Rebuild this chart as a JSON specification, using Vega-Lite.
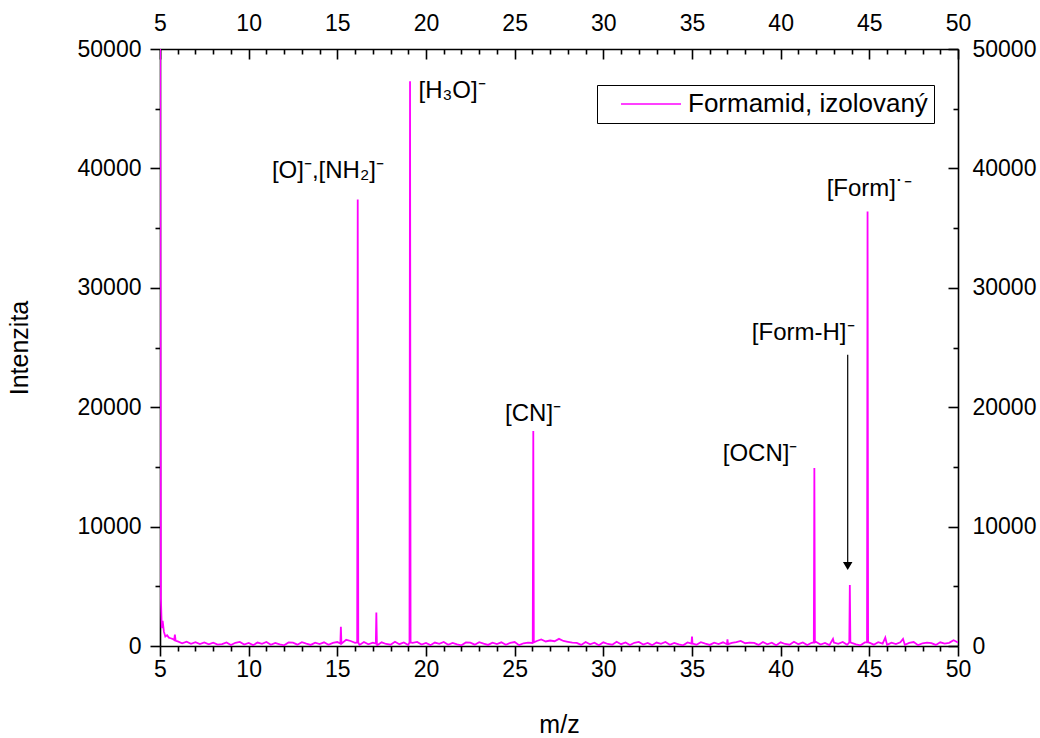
{
  "$schema": "https://vega.github.io/schema/vega-lite/v6.json",
  "width": 798,
  "height": 597,
  "autosize": "none",
  "padding": {"left": 160, "top": 49, "right": 82, "bottom": 92},
  "background": "white",
  "config": {
    "view": {"stroke": null},
    "font": "Liberation Sans",
    "axis": {
      "grid": false,
      "domainColor": "black",
      "domainWidth": 1.6,
      "tickColor": "black",
      "tickWidth": 1.6,
      "labelColor": "black",
      "labelFontSize": 23,
      "labelFont": "Liberation Sans",
      "titleFont": "Liberation Sans",
      "titleFontSize": 25,
      "titleFontWeight": "normal",
      "titleColor": "black",
      "labelPadding": 4
    }
  },
  "datasets": {
    "spec": [
      {"x": 5.0, "y": 60000}, {"x": 5.05, "y": 4000}, {"x": 5.1, "y": 1500}, {"x": 5.15, "y": 2100}, {"x": 5.22, "y": 1200}, {"x": 5.3, "y": 800}, {"x": 5.4, "y": 900}, {"x": 5.5, "y": 700}, {"x": 5.6, "y": 650}, {"x": 5.7, "y": 600}, {"x": 5.8, "y": 500}, {"x": 5.84, "y": 950}, {"x": 5.88, "y": 450}, {"x": 5.95, "y": 400},
      {"x": 6.0, "y": 380}, {"x": 6.25, "y": 230}, {"x": 6.5, "y": 360}, {"x": 6.75, "y": 190}, {"x": 7.0, "y": 320}, {"x": 7.25, "y": 160}, {"x": 7.5, "y": 300}, {"x": 7.75, "y": 140}, {"x": 8.0, "y": 280}, {"x": 8.25, "y": 120},
      {"x": 8.5, "y": 150}, {"x": 8.75, "y": 300}, {"x": 9.0, "y": 80}, {"x": 9.25, "y": 270}, {"x": 9.5, "y": 340}, {"x": 9.75, "y": 120}, {"x": 10.0, "y": 250}, {"x": 10.25, "y": 70}, {"x": 10.5, "y": 290}, {"x": 10.75, "y": 180},
      {"x": 11.0, "y": 340}, {"x": 11.25, "y": 100}, {"x": 11.5, "y": 260}, {"x": 11.75, "y": 130}, {"x": 12.0, "y": 60}, {"x": 12.25, "y": 300}, {"x": 12.5, "y": 280}, {"x": 12.75, "y": 110}, {"x": 13.0, "y": 320}, {"x": 13.25, "y": 200},
      {"x": 13.5, "y": 90}, {"x": 13.75, "y": 280}, {"x": 14.0, "y": 160}, {"x": 14.25, "y": 310}, {"x": 14.5, "y": 100}, {"x": 14.75, "y": 260}, {"x": 15.0, "y": 330}, {"x": 15.17, "y": 200}, {"x": 15.2, "y": 1600}, {"x": 15.23, "y": 200}, {"x": 15.5, "y": 520}, {"x": 15.75, "y": 420},
      {"x": 16.0, "y": 260}, {"x": 16.12, "y": 300}, {"x": 16.15, "y": 37400}, {"x": 16.18, "y": 300}, {"x": 16.25, "y": 90}, {"x": 16.5, "y": 330}, {"x": 16.75, "y": 140}, {"x": 17.0, "y": 280}, {"x": 17.17, "y": 200}, {"x": 17.2, "y": 2800}, {"x": 17.23, "y": 200}, {"x": 17.25, "y": 60}, {"x": 17.5, "y": 310}, {"x": 17.75, "y": 170}, {"x": 18.0, "y": 110}, {"x": 18.25, "y": 350},
      {"x": 18.5, "y": 150}, {"x": 18.75, "y": 300}, {"x": 19.0, "y": 80}, {"x": 19.07, "y": 300}, {"x": 19.1, "y": 47300}, {"x": 19.13, "y": 300}, {"x": 19.25, "y": 270}, {"x": 19.5, "y": 340}, {"x": 19.75, "y": 120}, {"x": 20.0, "y": 250}, {"x": 20.25, "y": 70}, {"x": 20.5, "y": 290}, {"x": 20.75, "y": 180},
      {"x": 21.0, "y": 340}, {"x": 21.25, "y": 100}, {"x": 21.5, "y": 260}, {"x": 21.75, "y": 130}, {"x": 22.0, "y": 60}, {"x": 22.25, "y": 300}, {"x": 22.5, "y": 280}, {"x": 22.75, "y": 110}, {"x": 23.0, "y": 320}, {"x": 23.25, "y": 200},
      {"x": 23.5, "y": 90}, {"x": 23.75, "y": 280}, {"x": 24.0, "y": 160}, {"x": 24.25, "y": 310}, {"x": 24.5, "y": 100}, {"x": 24.75, "y": 260}, {"x": 25.0, "y": 330}, {"x": 25.25, "y": 70}, {"x": 25.5, "y": 230}, {"x": 25.75, "y": 290},
      {"x": 26.0, "y": 250}, {"x": 26.02, "y": 300}, {"x": 26.05, "y": 18000}, {"x": 26.08, "y": 300}, {"x": 26.25, "y": 420}, {"x": 26.5, "y": 550}, {"x": 26.75, "y": 380}, {"x": 27.0, "y": 460}, {"x": 27.25, "y": 400}, {"x": 27.5, "y": 600}, {"x": 27.75, "y": 420}, {"x": 28.0, "y": 350}, {"x": 28.25, "y": 280},
      {"x": 28.5, "y": 260}, {"x": 28.75, "y": 90}, {"x": 29.0, "y": 330}, {"x": 29.25, "y": 140}, {"x": 29.5, "y": 280}, {"x": 29.75, "y": 60}, {"x": 30.0, "y": 310}, {"x": 30.25, "y": 170}, {"x": 30.5, "y": 110}, {"x": 30.75, "y": 350},
      {"x": 31.0, "y": 150}, {"x": 31.25, "y": 300}, {"x": 31.5, "y": 80}, {"x": 31.75, "y": 270}, {"x": 32.0, "y": 340}, {"x": 32.25, "y": 120}, {"x": 32.5, "y": 250}, {"x": 32.75, "y": 70}, {"x": 33.0, "y": 290}, {"x": 33.25, "y": 180},
      {"x": 33.5, "y": 340}, {"x": 33.75, "y": 100}, {"x": 34.0, "y": 260}, {"x": 34.25, "y": 130}, {"x": 34.5, "y": 60}, {"x": 34.75, "y": 300}, {"x": 34.97, "y": 200}, {"x": 35.0, "y": 800}, {"x": 35.03, "y": 200}, {"x": 35.25, "y": 110}, {"x": 35.5, "y": 320}, {"x": 35.75, "y": 200},
      {"x": 36.0, "y": 90}, {"x": 36.25, "y": 280}, {"x": 36.5, "y": 160}, {"x": 36.75, "y": 310}, {"x": 36.97, "y": 150}, {"x": 37.0, "y": 550}, {"x": 37.03, "y": 150}, {"x": 37.25, "y": 260}, {"x": 37.5, "y": 330}, {"x": 37.75, "y": 420}, {"x": 38.0, "y": 230}, {"x": 38.25, "y": 290},
      {"x": 38.5, "y": 260}, {"x": 38.75, "y": 90}, {"x": 39.0, "y": 330}, {"x": 39.25, "y": 140}, {"x": 39.5, "y": 280}, {"x": 39.75, "y": 60}, {"x": 40.0, "y": 310}, {"x": 40.25, "y": 170}, {"x": 40.5, "y": 110}, {"x": 40.75, "y": 350},
      {"x": 41.0, "y": 150}, {"x": 41.25, "y": 300}, {"x": 41.5, "y": 80}, {"x": 41.75, "y": 270}, {"x": 41.87, "y": 300}, {"x": 41.9, "y": 14900}, {"x": 41.93, "y": 300}, {"x": 42.0, "y": 340}, {"x": 42.25, "y": 120}, {"x": 42.5, "y": 250}, {"x": 42.75, "y": 70}, {"x": 42.95, "y": 600}, {"x": 43.0, "y": 290}, {"x": 43.25, "y": 180},
      {"x": 43.5, "y": 340}, {"x": 43.75, "y": 100}, {"x": 43.87, "y": 300}, {"x": 43.9, "y": 5100}, {"x": 43.93, "y": 300}, {"x": 44.0, "y": 260}, {"x": 44.25, "y": 130}, {"x": 44.5, "y": 60}, {"x": 44.75, "y": 300}, {"x": 44.87, "y": 300}, {"x": 44.9, "y": 36400}, {"x": 44.93, "y": 300}, {"x": 45.0, "y": 280}, {"x": 45.25, "y": 110}, {"x": 45.5, "y": 320}, {"x": 45.75, "y": 200},
      {"x": 45.9, "y": 700}, {"x": 46.0, "y": 90}, {"x": 46.25, "y": 280}, {"x": 46.5, "y": 160}, {"x": 46.75, "y": 310}, {"x": 46.9, "y": 600}, {"x": 47.0, "y": 100}, {"x": 47.25, "y": 260}, {"x": 47.5, "y": 330}, {"x": 47.75, "y": 70}, {"x": 48.0, "y": 230}, {"x": 48.25, "y": 290},
      {"x": 48.5, "y": 240}, {"x": 48.75, "y": 90}, {"x": 49.0, "y": 310}, {"x": 49.25, "y": 200}, {"x": 49.5, "y": 260}, {"x": 49.75, "y": 480}, {"x": 50.0, "y": 300}
    ],
    "labels": [
      {"x": 14.47, "y": 39200, "t": "[O]⁻,[NH₂]⁻"},
      {"x": 21.47, "y": 45900, "t": "[H₃O]⁻"},
      {"x": 26.04, "y": 18850, "t": "[CN]⁻"},
      {"x": 38.84, "y": 15500, "t": "[OCN]⁻"},
      {"x": 41.27, "y": 25630, "t": "[Form-H]⁻"},
      {"x": 45.0, "y": 37690, "t": "[Form]˙⁻"}
    ],
    "arrow": [
      {"x": 43.78, "y": 24400, "y2": 7000}
    ],
    "head": [
      {"x": 43.78, "y": 6700}
    ]
  },
  "layer": [
    {
      "data": {"name": "spec"},
      "mark": {"type": "line", "strokeWidth": 1.8, "clip": true, "interpolate": "linear"},
      "encoding": {
        "x": {
          "field": "x", "type": "quantitative",
          "scale": {"domain": [5, 50], "nice": false, "zero": false},
          "axis": {
            "orient": "bottom", "title": "m/z", "titlePadding": 31,
            "labelPadding": 2,
            "values": [5,6,7,8,9,10,11,12,13,14,15,16,17,18,19,20,21,22,23,24,25,26,27,28,29,30,31,32,33,34,35,36,37,38,39,40,41,42,43,44,45,46,47,48,49,50],
            "labelExpr": "datum.value % 5 === 0 ? datum.label : ''",
            "tickSize": {"condition": {"test": "datum.value % 5 === 0", "value": 10}, "value": 5},
            "labelFlush": false
          }
        },
        "y": {
          "field": "y", "type": "quantitative",
          "scale": {"domain": [0, 50000], "nice": false},
          "axis": {
            "orient": "left", "title": "Intenzita", "titlePadding": 45,
            "labelPadding": 9,
            "values": [0,5000,10000,15000,20000,25000,30000,35000,40000,45000,50000],
            "format": "d",
            "labelExpr": "datum.value % 10000 === 0 ? datum.label : ''",
            "tickSize": {"condition": {"test": "datum.value % 10000 === 0", "value": 10}, "value": 5},
            "labelFlush": false
          }
        },
        "color": {
          "datum": "Formamid, izolovaný",
          "scale": {"range": ["#ff00ff"]},
          "legend": {
            "title": null,
            "orient": "none",
            "legendX": 437,
            "legendY": 36,
            "symbolType": "M-1,0H5",
            "symbolSize": 400,
            "symbolStrokeWidth": 1.5,
            "symbolOffset": 15,
            "labelFontSize": 26,
            "labelLimit": 0,
            "labelColor": "black",
            "labelFont": "Liberation Sans",
            "labelOffset": 44,
            "strokeColor": "black",
            "fillColor": "white",
            "padding": 6
          }
        }
      }
    },
    {
      "data": {"name": "labels"},
      "mark": {"type": "text", "fontSize": 24, "font": "Liberation Sans", "color": "black", "align": "center", "baseline": "alphabetic"},
      "encoding": {
        "x": {
          "field": "x", "type": "quantitative",
          "axis": {
            "orient": "top", "title": null,
            "labelPadding": 24,
            "values": [5,6,7,8,9,10,11,12,13,14,15,16,17,18,19,20,21,22,23,24,25,26,27,28,29,30,31,32,33,34,35,36,37,38,39,40,41,42,43,44,45,46,47,48,49,50],
            "labelExpr": "datum.value % 5 === 0 ? datum.label : ''",
            "tickSize": {"condition": {"test": "datum.value % 5 === 0", "value": -10}, "value": -5},
            "labelFlush": false
          }
        },
        "y": {
          "field": "y", "type": "quantitative",
          "axis": {
            "orient": "right", "title": null,
            "labelPadding": 24,
            "values": [0,5000,10000,15000,20000,25000,30000,35000,40000,45000,50000],
            "format": "d",
            "labelExpr": "datum.value % 10000 === 0 ? datum.label : ''",
            "tickSize": {"condition": {"test": "datum.value % 10000 === 0", "value": -10}, "value": -5},
            "labelFlush": false
          }
        },
        "text": {"field": "t"}
      }
    },
    {
      "data": {"name": "arrow"},
      "mark": {"type": "rule", "color": "black", "strokeWidth": 1.2},
      "encoding": {
        "x": {"field": "x", "type": "quantitative", "axis": null},
        "y": {"field": "y", "type": "quantitative", "axis": null},
        "y2": {"field": "y2"}
      }
    },
    {
      "data": {"name": "head"},
      "mark": {"type": "point", "shape": "triangle-down", "filled": true, "color": "black", "size": 90, "opacity": 1},
      "encoding": {
        "x": {"field": "x", "type": "quantitative", "axis": null},
        "y": {"field": "y", "type": "quantitative", "axis": null}
      }
    }
  ],
  "resolve": {"axis": {"x": "independent", "y": "independent"}}
}
